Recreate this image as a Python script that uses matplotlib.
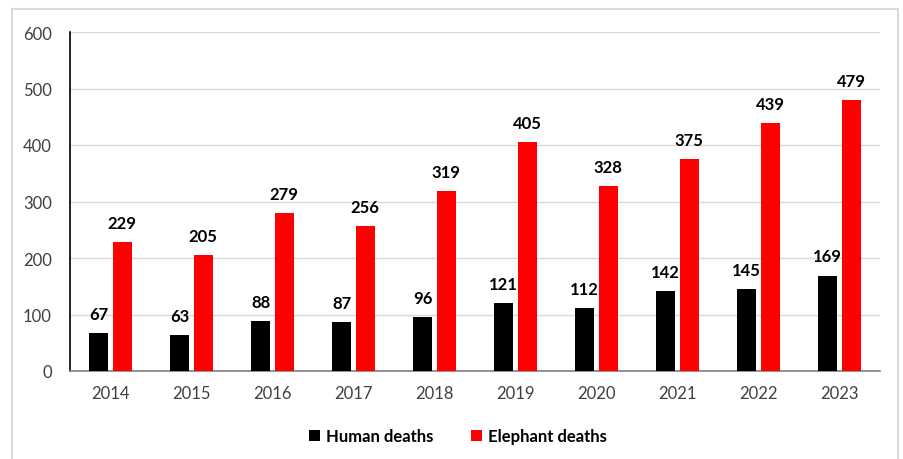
import matplotlib
matplotlib.use("Agg")
import matplotlib.pyplot as plt
import numpy as np
from matplotlib.patches import Rectangle

years = ["2014", "2015", "2016", "2017", "2018", "2019", "2020", "2021", "2022", "2023"]
human_deaths = [67, 63, 88, 87, 96, 121, 112, 142, 145, 169]
elephant_deaths = [229, 205, 279, 256, 319, 405, 328, 375, 439, 479]

plt.rcParams['font.family'] = ['Lato', 'DejaVu Sans']

W, H = 904, 460
fig = plt.figure(figsize=(W / 100, H / 100), dpi=100)
fig.patch.set_facecolor("white")
fig.patches.append(Rectangle((12 / W, -0.05), (898 - 12) / W, (H - 10) / H + 0.05,
                             transform=fig.transFigure, fill=False,
                             edgecolor="#d9d9d9", linewidth=1.5))

ax = fig.add_axes([70 / W, 1 - 372 / H, (880 - 70) / W, (372 - 33) / H])
x = np.arange(len(years))
w = 0.23
off = 0.145
b1 = ax.bar(x - off, human_deaths, w, color="black", label="Human deaths", zorder=3)
b2 = ax.bar(x + off, elephant_deaths, w, color="#ff0000", label="Elephant deaths", zorder=3)

for bars, vals in ((b1, human_deaths), (b2, elephant_deaths)):
    for r, v in zip(bars, vals):
        ax.annotate(str(v), (r.get_x() + r.get_width() / 2, v), xytext=(0, 8),
                    textcoords="offset points", ha="center", va="bottom",
                    fontsize=12, fontweight="bold", color="black")

ax.set_xlim(-0.5, len(years) - 0.5)
ax.set_ylim(0, 600)
ax.set_yticks(range(0, 601, 100))
ax.set_xticks(x)
ax.set_xticklabels(years)
ax.yaxis.grid(True, color="#d9d9d9", linewidth=1, zorder=0)
ax.set_axisbelow(True)
for s in ("top", "right"):
    ax.spines[s].set_visible(False)
ax.spines["left"].set_color("black")
ax.spines["left"].set_linewidth(1.2)
ax.spines["bottom"].set_color("#808080")
ax.spines["bottom"].set_linewidth(1.2)
ax.tick_params(axis="both", length=0, labelsize=12, colors="#404040")
ax.tick_params(axis="y", pad=13)
ax.tick_params(axis="x", pad=10)

leg = fig.legend(handles=[b1, b2], loc="center", bbox_to_anchor=(458 / W, 1 - 437 / H),
                 ncol=2, frameon=False, handlelength=0.65, handleheight=0.65,
                 columnspacing=2.3, handletextpad=0.35,
                 prop={"size": 12, "weight": "bold"})

fig.savefig("out.png", dpi=100, facecolor="white")
